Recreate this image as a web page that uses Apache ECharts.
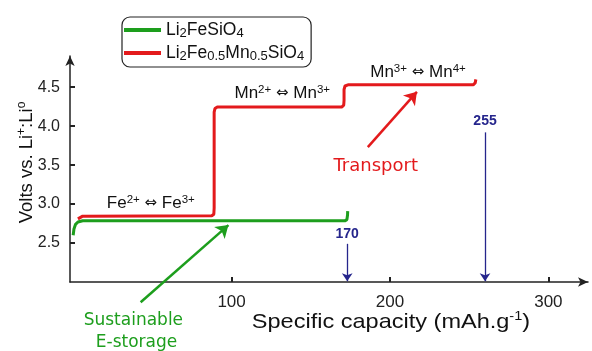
<!DOCTYPE html>
<html>
<head>
<meta charset="utf-8">
<script src="https://cdn.jsdelivr.net/npm/echarts@6/dist/echarts.min.js"></script>
<style>html,body{margin:0;padding:0;background:#fff}#c{width:592px;height:351px}</style>
</head>
<body>
<div id="c"></div>
<script>
// ---- data (capacity mAh/g, voltage V) ----
const greenCurve = [[0,2.60],[0.5,2.68],[1.5,2.74],[3,2.77],[6,2.785],[171.5,2.785],[172.8,2.80],[173.2,2.86],[173.3,2.91]];
const redCurve = [[3,2.81],[4,2.835],[6,2.845],[87.5,2.85],[88.8,2.87],[89,2.95],[89,4.18],[89.5,4.225],[91,4.245],[169.5,4.245],[170.8,4.27],[171,4.33],[171,4.47],[171.6,4.515],[173.5,4.53],[252.5,4.53],[253.8,4.555],[254.2,4.60]];
const xTicks = [100, 200, 300];
const yTicks = [2.5, 3.0, 3.5, 4.0, 4.5];
const seriesNames = ['Li2FeSiO4', 'Li2Fe0.5Mn0.5SiO4'];
// arrows: [fromCap, fromV, toCap, toV]
const arrow170 = [173, 2.49, 173, 2.01];
const arrow255 = [260, 3.92, 260, 2.01];
const arrowTransport = [186, 3.73, 217, 4.44];
const arrowStorage = [42.6, 1.74, 98, 2.73];
// annotation labels: [cap, V, text]
const blackLabels = [
  [49, 3.01, '{n|Fe}{sup|2+}{a| ⇔ }{n|Fe}{sup|3+}'],
  [132, 4.42, '{n|Mn}{sup|2+}{a| ⇔ }{n|Mn}{sup|3+}'],
  [217.7, 4.69, '{n|Mn}{sup|3+}{a| ⇔ }{n|Mn}{sup|4+}']
];
const blueLabels = [[173, 2.62, '170'], [260, 4.06, '255']];
const redLabels = [[191, 3.49, 'Transport']];
const greenLabels = [[38, 1.51, 'Sustainable'], [40, 1.22, 'E-storage']];

const GREEN = '#1d9e1d', RED = '#e31a1c', BLUE = '#25258c';
const FONT = 'Liberation Sans, Arial, sans-serif';
const COMIC = 'DejaVu Sans, sans-serif';

const chart = echarts.init(document.getElementById('c'), null, {renderer: 'canvas'});

function labelSeries(items, style) {
  return {
    type: 'scatter', silent: true, clip: false, symbolSize: 0,
    itemStyle: {opacity: 1},
    data: items.map(d => ({value: [d[0], d[1]], label: {formatter: d[2]}})),
    label: Object.assign({show: true, position: 'inside', textBorderWidth: 0, textShadowBlur: 0, opacity: 1}, style),
    emphasis: {disabled: true},
    z: 5
  };
}
function arrowSeries(arr, color, width, size) {
  return {
    type: 'lines', coordinateSystem: 'cartesian2d', clip: false, silent: true,
    symbol: ['none', 'arrow'], symbolSize: size,
    lineStyle: {color: color, width: width, opacity: 1},
    data: [{coords: [[arr[0], arr[1]], [arr[2], arr[3]]]}],
    z: 6
  };
}
const supRich = {
  n: {fontSize: 17, fontFamily: FONT, color: '#111', lineHeight: 19, textBorderWidth: 0},
  a: {fontSize: 15, fontFamily: 'DejaVu Sans, sans-serif', color: '#111', lineHeight: 19, textBorderWidth: 0},
  sup: {fontSize: 11.5, fontFamily: FONT, color: '#111', lineHeight: 10, verticalAlign: 'top', textBorderWidth: 0}
};

const option = {
  animation: false,
  grid: {left: 70, right: 4, top: 56, bottom: 69, containLabel: false},
  legend: {
    orient: 'vertical', left: 122, top: 17,
    data: seriesNames,
    icon: 'rect', itemWidth: 37, itemHeight: 4, itemGap: 4,
    borderColor: '#222', borderWidth: 1.2, borderRadius: 8,
    padding: [4, 7, 4, 2],
    formatter: function (name) {
      return name === seriesNames[0]
        ? '{n|Li}{sub|2}{n|FeSiO}{sub|4}'
        : '{n|Li}{sub|2}{n|Fe}{sub|0.5}{n|Mn}{sub|0.5}{n|SiO}{sub|4}';
    },
    textStyle: {
      rich: {
        n: {fontSize: 17.5, fontFamily: FONT, color: '#111', lineHeight: 20},
        sub: {fontSize: 13, fontFamily: FONT, color: '#111', lineHeight: 12, verticalAlign: 'bottom'}
      }
    }
  },
  xAxis: {
    type: 'value', min: -2, max: 325,
    splitLine: {show: false},
    axisLine: {show: true, onZero: false, symbol: ['none', 'arrow'], symbolSize: [7, 10], lineStyle: {color: '#222', width: 1.5}},
    axisTick: {show: true, inside: true, length: 5, customValues: xTicks, lineStyle: {color: '#222', width: 2}},
    axisLabel: {customValues: xTicks, fontSize: 17, fontFamily: FONT, color: '#222', margin: 12}
  },
  yAxis: {
    type: 'value', min: 2.0, max: 4.9,
    splitLine: {show: false},
    axisLine: {show: true, onZero: false, symbol: ['none', 'arrow'], symbolSize: [7, 10], lineStyle: {color: '#222', width: 1.5}},
    axisTick: {show: true, inside: true, length: 5, customValues: yTicks, lineStyle: {color: '#222', width: 2}},
    axisLabel: {customValues: yTicks, fontSize: 16, fontFamily: FONT, color: '#222', margin: 10, formatter: v => v.toFixed(1)}
  },
  graphic: [
    {
      type: 'text', x: 391, y: 322, scaleX: 1.12,
      style: {
        text: '{n|Specific capacity (mAh.g}{sup|-1}{n|)}',
        align: 'center', verticalAlign: 'middle',
        rich: {
          n: {fontSize: 21, fontFamily: FONT, fill: '#111', lineHeight: 24},
          sup: {fontSize: 13, fontFamily: FONT, fill: '#111', lineHeight: 12, verticalAlign: 'top'}
        }
      }
    },
    {
      type: 'text', x: 27, y: 162.5, rotation: Math.PI / 2,
      style: {
        text: '{n|Volts vs. Li}{sup|+}{n|:Li}{sup|o}',
        align: 'center', verticalAlign: 'middle',
        rich: {
          n: {fontSize: 18.5, fontFamily: FONT, fill: '#111', lineHeight: 22},
          sup: {fontSize: 12, fontFamily: FONT, fill: '#111', lineHeight: 11, verticalAlign: 'top'}
        }
      }
    }
  ],
  series: [
    {name: seriesNames[0], type: 'line', data: greenCurve, showSymbol: false, symbol: 'none', clip: false,
     lineStyle: {color: GREEN, width: 3}, itemStyle: {color: GREEN}, z: 3},
    {name: seriesNames[1], type: 'line', data: redCurve, showSymbol: false, symbol: 'none', clip: false,
     lineStyle: {color: RED, width: 3}, itemStyle: {color: RED}, z: 3},
    labelSeries(blackLabels, {color: '#111', rich: supRich}),
    labelSeries(blueLabels, {fontSize: 14, fontWeight: 'bold', fontFamily: FONT, color: BLUE}),
    labelSeries(redLabels, {fontSize: 18, fontFamily: COMIC, color: RED}),
    labelSeries(greenLabels, {fontSize: 17, fontFamily: COMIC, color: GREEN}),
    arrowSeries(arrow170, BLUE, 1.3, [6, 8]),
    arrowSeries(arrow255, BLUE, 1.3, [6, 8]),
    arrowSeries(arrowTransport, RED, 2.5, [10, 12]),
    arrowSeries(arrowStorage, GREEN, 2.5, [10, 12])
  ]
};
chart.setOption(option);
</script>
</body>
</html>
